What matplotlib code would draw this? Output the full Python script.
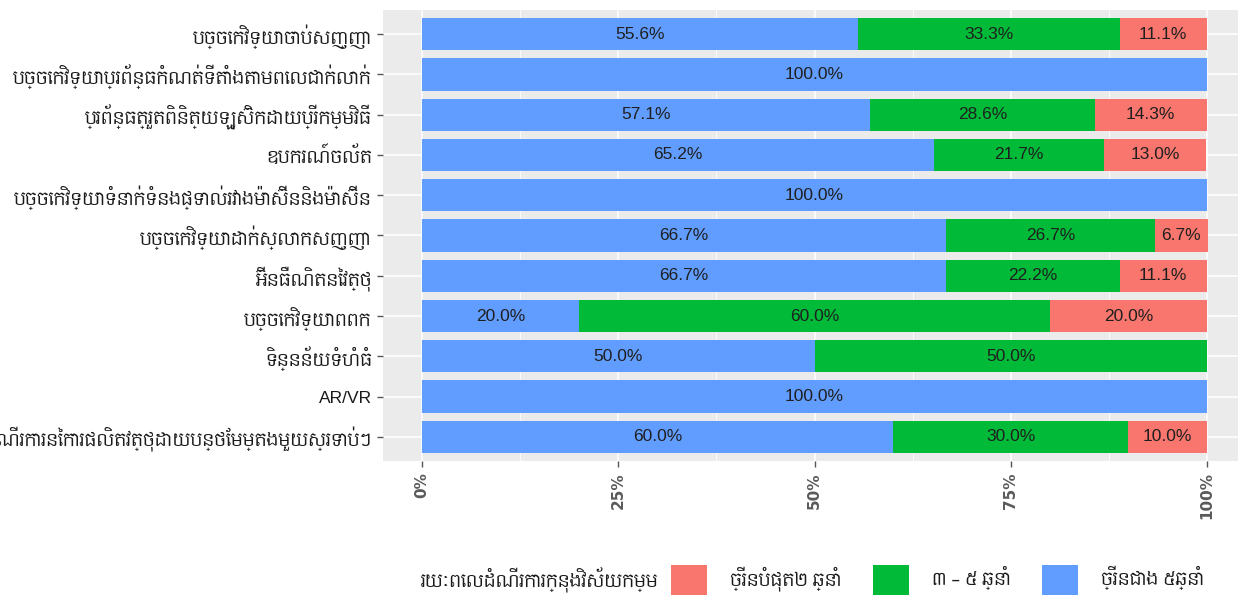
import matplotlib
matplotlib.use("Agg")
import matplotlib.pyplot as plt
from matplotlib.patches import Patch
import numpy as np

categories = [
    "បច្ចេកវិទ្យាចាប់សញ្ញា",
    "បច្ចេកវិទ្យាប្រព័ន្ធកំណត់ទីតាំងតាមពេលជាក់លាក់",
    "ប្រព័ន្ធត្រួតពិនិត្យឡូស៊ិកដោយប្រើកម្មវិធី",
    "ឧបករណ៍ចល័ត",
    "បច្ចេកវិទ្យាទំនាក់ទំនងផ្ទាល់រវាងម៉ាស៊ីននិងម៉ាស៊ីន",
    "បច្ចេកវិទ្យាដាក់ស្លាកសញ្ញា",
    "អ៊ីនធឺណិតនៃវត្ថុ",
    "បច្ចេកវិទ្យាពពក",
    "ទិន្នន័យទំហំធំ",
    "AR/VR",
    "ដំណើរការនៃការផលិតវត្ថុដោយបន្ថែមម្តងមួយស្រទាប់ៗ",
]
# shares (%) per category, top to bottom
over5 = [55.6, 100.0, 57.1, 65.2, 100.0, 66.7, 66.7, 20.0, 50.0, 100.0, 60.0]
y3to5 = [33.3, 0.0, 28.6, 21.7, 0.0, 26.7, 22.2, 60.0, 50.0, 0.0, 30.0]
upto2 = [11.1, 0.0, 14.3, 13.0, 0.0, 6.7, 11.1, 20.0, 0.0, 0.0, 10.0]

legend_title = "រយៈពេលដំណើរការក្នុងវិស័យកម្ម"
series_names = ["ច្រើនបំផុត២ ឆ្នាំ", "៣ – ៥ ឆ្នាំ", "ច្រើនជាង ៥ឆ្នាំ"]
xticks = [0, 25, 50, 75, 100]
xticklabels = ["0%", "25%", "50%", "75%", "100%"]

C_RED, C_GREEN, C_BLUE = "#F8766D", "#00BA38", "#619CFF"
KH = ["Content", "DejaVu Sans"]
LAT_KH = ["Liberation Sans", "Content", "DejaVu Sans"]
NUM = ["Liberation Sans Narrow", "Liberation Sans", "DejaVu Sans"]

W, H = 1238, 608
fig = plt.figure(figsize=(W / 100, H / 100), dpi=100)
ax = fig.add_axes([383 / W, 1 - 461 / H, (1246 - 383) / W, (461 - 10) / H])
ax.set_facecolor("#EBEBEB")
for s in ax.spines.values():
    s.set_visible(False)

ypos = np.arange(len(categories))
blue = np.array(over5) / 100
green = np.array(y3to5) / 100
red = np.array(upto2) / 100
bh = 0.8
ax.barh(ypos, blue, height=bh, color=C_BLUE, zorder=3)
ax.barh(ypos, green, left=blue, height=bh, color=C_GREEN, zorder=3)
ax.barh(ypos, red, left=blue + green, height=bh, color=C_RED, zorder=3)

for i in range(len(categories)):
    starts = [0, blue[i], blue[i] + green[i]]
    vals = [blue[i], green[i], red[i]]
    labs = [over5[i], y3to5[i], upto2[i]]
    for st, v, lv in zip(starts, vals, labs):
        if v > 0:
            ax.text(st + v / 2, ypos[i], f"{lv:.1f}%", ha="center", va="center",
                    fontsize=12.5, family=NUM, color="#1f1f1f", zorder=4)

ax.set_xlim(-0.05, 1.05)
ax.set_ylim(len(categories) - 1 + 0.6, -0.6)
ax.set_xticks(np.array(xticks) / 100)
ax.set_xticklabels(xticklabels, rotation=90, fontsize=11, fontweight="bold",
                   color="#5a5a5a", family="DejaVu Sans")
ax.set_xticks(np.array([12.5, 37.5, 62.5, 87.5]) / 100, minor=True)
ax.set_yticks(ypos)
ax.set_yticklabels(categories, fontsize=12.5, color="#1a1a1a")
for lab in ax.get_yticklabels():
    lab.set_family(LAT_KH if lab.get_text() == "AR/VR" else KH)
ax.tick_params(axis="both", which="major", length=4, width=1, color="#555555")
ax.tick_params(axis="y", pad=4)
ax.tick_params(axis="x", pad=4)
ax.tick_params(which="minor", length=0)
ax.grid(True, which="major", color="white", linewidth=1.1, zorder=0)
ax.grid(True, which="minor", axis="x", color="white", linewidth=0.55, zorder=0)
ax.set_axisbelow(True)

# legend
fig.text(420 / W, 1 - 580 / H, legend_title, fontsize=12.5, family=KH,
         color="#1a1a1a", ha="left", va="center")
handles = [Patch(facecolor=C_RED), Patch(facecolor=C_GREEN), Patch(facecolor=C_BLUE)]
leg = fig.legend(handles, series_names, loc="center left",
                 bbox_to_anchor=(664 / W, 1 - 580 / H), ncol=3, frameon=False,
                 handlelength=2.1, handleheight=2.3, handletextpad=1.3,
                 columnspacing=1.8, borderpad=0.2, borderaxespad=0.2,
                 prop={"family": KH, "size": 12.5})
for t in leg.get_texts():
    t.set_color("#1a1a1a")

fig.savefig("out.png", dpi=100)
